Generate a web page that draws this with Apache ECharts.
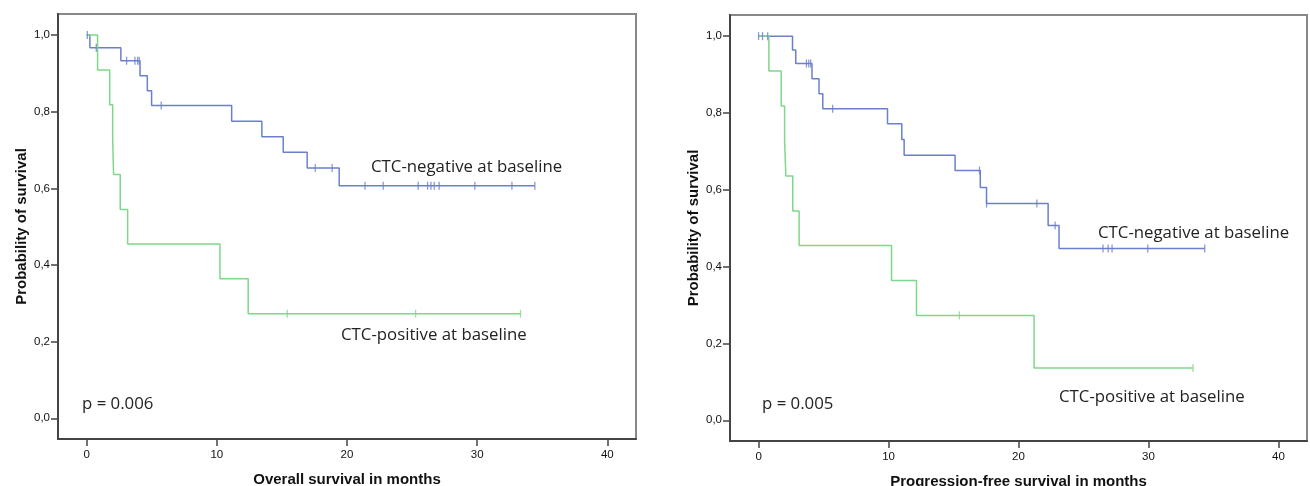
<!DOCTYPE html>
<html>
<head>
<meta charset="utf-8">
<script src="https://cdn.jsdelivr.net/npm/echarts@6/dist/echarts.min.js"></script>
<style>
  html, body { margin: 0; padding: 0; background: #fff; }
  #km { width: 1310px; height: 486px; }
</style>
</head>
<body>
<div id="km"></div>
<script>
// tick labels
const xTicks = [0, 10, 20, 30, 40]
const yTicks = [0, 0.2, 0.4, 0.6, 0.8, 1.0]

// overall survival, [months, probability]
const osNegCurve = [[0, 1], [0.25, 0.967], [2.63, 0.933], [4.1, 0.894], [4.66, 0.855], [4.99, 0.816],
  [11.14, 0.775], [13.46, 0.735], [15.1, 0.694], [16.94, 0.653], [19.4, 0.607], [34.43, 0.607]]
const osNegCensor = [[0.05, 1], [0.74, 0.967], [3.07, 0.933], [3.71, 0.933], [3.92, 0.933], [4.04, 0.933],
  [5.73, 0.816], [17.56, 0.653], [18.86, 0.653], [21.38, 0.607], [22.78, 0.607], [25.47, 0.607],
  [26.19, 0.607], [26.45, 0.607], [26.7, 0.607], [27.08, 0.607], [29.82, 0.607], [32.67, 0.607], [34.43, 0.607]]
const osPosCurve = [[0, 1], [0.84, 0.909], [1.77, 0.818], [2.0, 0.727], [2.07, 0.636], [2.58, 0.545],
  [3.15, 0.455], [10.24, 0.364], [12.41, 0.273], [33.33, 0.273]]
const osPosCensor = [[15.41, 0.273], [25.27, 0.273], [33.33, 0.273]]

// progression-free survival
const pfsNegCurve = [[0, 1], [2.61, 0.964], [2.86, 0.929], [4.11, 0.889], [4.65, 0.85], [4.94, 0.811],
  [9.92, 0.772], [11.02, 0.731], [11.2, 0.69], [15.12, 0.65], [17.06, 0.606], [17.54, 0.564],
  [22.28, 0.507], [23.12, 0.447], [34.33, 0.447]]
const pfsNegCensor = [[0, 1], [0.3, 1], [0.7, 1], [3.68, 0.929], [3.86, 0.929], [4.01, 0.929],
  [5.7, 0.811], [17.0, 0.65], [17.54, 0.564], [21.41, 0.564], [22.82, 0.507], [26.5, 0.447],
  [26.9, 0.447], [27.2, 0.447], [29.95, 0.447], [34.33, 0.447]]
const pfsPosCurve = [[0, 1], [0.79, 0.909], [1.74, 0.818], [2.0, 0.727], [2.1, 0.636], [2.63, 0.545],
  [3.12, 0.455], [10.23, 0.364], [12.15, 0.273], [21.2, 0.136], [33.43, 0.136]]
const pfsPosCensor = [[15.45, 0.273], [33.43, 0.136]]

const blue = '#6b80cc'
const green = '#7fd88a'
const axisDark = '#444'
const tickFont = { fontFamily: 'Liberation Sans', fontSize: 11.5, color: '#111' }
const nameFont = { fontFamily: 'Liberation Sans', fontSize: 15, fontWeight: 'bold', color: '#111' }
const noteFont = 'Open Sans'

function xAxisFor(idx, name) {
  return {
    type: 'value', gridIndex: idx, min: -2.2, max: 42.2,
    name: name, nameLocation: 'middle', nameGap: 33, nameTextStyle: nameFont,
    axisLine: { onZero: false, lineStyle: { color: axisDark, width: 2 } },
    axisTick: { length: 7, customValues: xTicks, lineStyle: { color: axisDark, width: 1.5 } },
    axisLabel: { customValues: xTicks, margin: 10, ...tickFont },
    splitLine: { show: false }
  }
}

function yAxisFor(idx) {
  return {
    type: 'value', gridIndex: idx, min: -0.054, max: 1.055,
    name: 'Probability of survival', nameLocation: 'middle', nameGap: 29, nameRotate: 90,
    nameTextStyle: nameFont,
    axisLine: { onZero: false, lineStyle: { color: axisDark, width: 2 } },
    axisTick: { length: 7, customValues: yTicks, lineStyle: { color: axisDark, width: 1.5 } },
    axisLabel: { customValues: yTicks, margin: 8, ...tickFont, formatter: v => v.toFixed(1).replace('.', ',') },
    splitLine: { show: false }
  }
}

function curve(idx, data, color) {
  return {
    type: 'line', xAxisIndex: idx, yAxisIndex: idx, step: 'end', data: data,
    symbol: 'none', lineStyle: { color: color, width: 1.5 }, z: 3
  }
}

function censor(idx, data, color) {
  return {
    type: 'scatter', xAxisIndex: idx, yAxisIndex: idx, data: data,
    symbol: 'path://M0,0H1V10H0Z', symbolSize: [1.3, 8],
    itemStyle: { color: color }, z: 4
  }
}

function note(text, left, top) {
  return {
    type: 'text', left: left, top: top,
    style: { text: text, font: '16.8px "' + noteFont + '"', fill: '#222' }
  }
}

const option = {
  animation: false,
  backgroundColor: '#fff',
  grid: [
    { left: 58, top: 14, width: 578, height: 425, outerBoundsMode: 'none', show: true, borderColor: '#888', borderWidth: 2 },
    { left: 730, top: 15, width: 577, height: 426, outerBoundsMode: 'none', show: true, borderColor: '#888', borderWidth: 2 }
  ],
  xAxis: [xAxisFor(0, 'Overall survival in months'), xAxisFor(1, 'Progression-free survival in months')],
  yAxis: [yAxisFor(0), yAxisFor(1)],
  series: [
    curve(0, osNegCurve, blue), censor(0, osNegCensor, blue),
    curve(0, osPosCurve, green), censor(0, osPosCensor, green),
    curve(1, pfsNegCurve, blue), censor(1, pfsNegCensor, blue),
    curve(1, pfsPosCurve, green), censor(1, pfsPosCensor, green)
  ],
  graphic: [
    note('CTC-negative at baseline', 371, 159),
    note('CTC-positive at baseline', 341, 327),
    note('p = 0.006', 82, 396),
    note('CTC-negative at baseline', 1098, 225),
    note('CTC-positive at baseline', 1059, 389),
    note('p = 0.005', 762, 396)
  ]
}

const chart = echarts.init(document.getElementById('km'))
chart.setOption(option)
</script>
</body>
</html>
